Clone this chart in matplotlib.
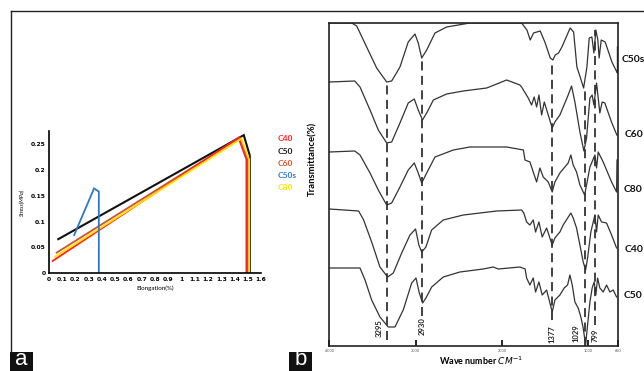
"""
Two-panel figure: (a) stress vs elongation curves, (b) stacked FTIR spectra.
Writes out.png (644x371).
"""

import matplotlib
matplotlib.use("Agg")
import matplotlib.pyplot as plt
from matplotlib.lines import Line2D
from matplotlib.patches import Rectangle

plt.rcParams["font.family"] = ["Lato", "DejaVu Sans"]

# ---------------- panel a: stress / elongation ----------------
ELONG_TICKS = [0, 0.1, 0.2, 0.3, 0.4, 0.5, 0.6, 0.7, 0.8, 0.9, 1.0, 1.1, 1.2, 1.3, 1.4, 1.5, 1.6]
ELONG_TICK_LABELS = ["0", "0.1", "0.2", "0.3", "0.4", "0.5", "0.6", "0.7", "0.8", "0.9",
                     "1", "1.1", "1.2", "1.3", "1.4", "1.5", "1.6"]
STRESS_TICKS = [0, 0.05, 0.1, 0.15, 0.2, 0.25]
STRESS_TICK_LABELS = ["0", "0.05", "0.1", "0.15", "0.2", "0.25"]

C50_ELONG = [0.07, 1.47, 1.515, 1.515]
C50_STRESS = [0.066, 0.267, 0.228, 0.0]
C60_ELONG = [0.058, 1.44, 1.50, 1.50]
C60_STRESS = [0.040, 0.262, 0.222, 0.0]
C40_ELONG = [0.028, 1.43, 1.49, 1.49]
C40_STRESS = [0.024, 0.262, 0.220, 0.0]
C80_ELONG = [0.045, 1.45, 1.51, 1.51]
C80_STRESS = [0.032, 0.260, 0.220, 0.0]
C50S_ELONG = [0.19, 0.34, 0.376, 0.376]
C50S_STRESS = [0.074, 0.164, 0.158, 0.0]

TENSILE_SERIES = [
    ("C50", C50_ELONG, C50_STRESS, "#111111"),
    ("C60", C60_ELONG, C60_STRESS, "#cf5428"),
    ("C40", C40_ELONG, C40_STRESS, "#ff2020"),
    ("C80", C80_ELONG, C80_STRESS, "#ffe400"),
    ("C50s", C50S_ELONG, C50S_STRESS, "#2b78c8"),
]
LEGEND_ORDER = ["C40", "C50", "C60", "C50s", "C80"]

# ---------------- panel b: FTIR spectra (offset transmittance) ----------------
C50S_WN = [4000, 3740, 3682, 3567, 3451, 3335, 3277, 3181, 3085, 3007, 2969, 2929, 2871, 2775,
           2640, 2370, 1944, 1771, 1709, 1671, 1632, 1555, 1497, 1439, 1408, 1381, 1342, 1304,
           1208, 1168, 1130, 1092, 1052, 1014, 987, 956, 933, 910, 887, 872, 848, 802, 724, 667,
           660, 660]
C50S_T = [324, 324, 321, 300, 279, 265, 266, 280, 305, 313, 304, 289, 297, 314,
          320, 324, 324, 324, 317, 307, 314, 316, 304, 289, 287, 292, 294, 300,
          319, 315, 280, 270, 259, 280, 309, 310, 294, 317, 307, 289, 307, 305, 285, 275,
          274, 300]

C60_WN = [4000, 3705, 3644, 3528, 3432, 3335, 3277, 3181, 3085, 3015, 2969, 2920, 2871, 2794,
          2640, 2447, 2176, 1944, 1791, 1771, 1694, 1655, 1625, 1597, 1570, 1539, 1508, 1416,
          1385, 1327, 1231, 1192, 1153, 1095, 1049, 1018, 979, 953, 933, 902, 883, 864, 837,
          806, 729, 667]
C60_T = [265, 266, 260, 237, 217, 204, 205, 224, 244, 248, 237, 227, 234, 247,
         253, 256, 259, 267, 262, 260, 249, 242, 250, 240, 252, 232, 245, 219,
         225, 232, 252, 261, 245, 215, 196, 209, 249, 252, 242, 264, 249, 234, 245,
         244, 225, 212]

C80_WN = [4000, 3705, 3644, 3528, 3432, 3335, 3277, 3181, 3085, 3015, 2969, 2929, 2871, 2775,
          2562, 2370, 1944, 1750, 1732, 1674, 1636, 1597, 1559, 1520, 1462, 1416, 1385, 1327,
          1231, 1200, 1173, 1134, 1095, 1040, 979, 921, 902, 883, 825, 728, 670, 665]
C80_T = [195, 196, 192, 174, 157, 142, 144, 160, 177, 184, 174, 164, 174, 190,
         197, 200, 200, 197, 187, 185, 175, 165, 179, 170, 165, 155, 165, 174,
         184, 192, 182, 175, 162, 152, 180, 192, 179, 195, 185, 165, 155, 187]

C40_WN = [4000, 3660, 3602, 3505, 3413, 3324, 3258, 3161, 3065, 3000, 2962, 2929, 2880, 2814,
          2679, 2447, 2060, 1771, 1745, 1713, 1675, 1636, 1609, 1570, 1532, 1481, 1416, 1385,
          1327, 1289, 1200, 1173, 1134, 1095, 1057, 1029, 1006, 968, 941, 921, 902, 883, 844,
          786, 728, 670]
C40_T = [138, 136, 127, 104, 80, 70, 74, 94, 112, 118, 102, 95, 100, 117,
         127, 132, 136, 137, 134, 125, 122, 127, 115, 125, 110, 119, 102, 109,
         115, 122, 134, 129, 119, 102, 85, 77, 89, 115, 125, 132, 115, 132, 125,
         124, 112, 99]

C50_WN = [4000, 3644, 3586, 3509, 3413, 3316, 3239, 3143, 3045, 2995, 2957, 2918, 2880, 2813,
          2679, 2486, 2216, 2100, 2042, 1790, 1730, 1713, 1675, 1636, 1609, 1570, 1532, 1481,
          1416, 1385, 1327, 1277, 1238, 1211, 1184, 1153, 1115, 1084, 1057, 1029, 1006, 979,
          953, 930, 910, 890, 864, 825, 786, 748, 709, 670]
C50_T = [79, 79, 67, 47, 30, 20, 20, 37, 64, 69, 54, 44, 49, 60,
         70, 75, 78, 80, 78, 80, 78, 69, 62, 69, 55, 65, 52, 57,
         35, 47, 52, 59, 62, 72, 62, 45, 39, 30, 19, 2, 22, 45,
         59, 65, 52, 69, 59, 55, 62, 55, 57, 50]

SPECTRA = [
    ("C50s", C50S_WN, C50S_T),
    ("C60", C60_WN, C60_T),
    ("C80", C80_WN, C80_T),
    ("C40", C40_WN, C40_T),
    ("C50", C50_WN, C50_T),
]

# marked bands: where the dashed guide sits, its printed label, and its vertical span
PEAK_WN = [3335, 2929, 1416, 1040, 918]
PEAK_LABELS = ["3295", "2930", "1377", "1029", "799"]
PEAK_TOP = [265, 289, 287, 259, 317]
PEAK_BOTTOM = [7, 31, 27, 1, 22]

WN_TICKS = [4000, 3000, 2000, 1000, 650]


def draw_tensile(fig):
    ax = fig.add_axes([49 / 644, 1 - 273.3 / 371, 212 / 644, 142.3 / 371])
    for name, x, y, color in TENSILE_SERIES:
        lw = 1.5 if name == "C50" else 1.3
        ax.plot(x, y, color=color, linewidth=lw, solid_joinstyle="miter")
    ax.set_xlim(0, 1.6)
    ax.set_ylim(0, 0.275)
    ax.set_xticks(ELONG_TICKS)
    ax.set_xticklabels(ELONG_TICK_LABELS, fontsize=4.3, fontweight="bold",
                       family="DejaVu Sans")
    ax.set_yticks(STRESS_TICKS)
    ax.set_yticklabels(STRESS_TICK_LABELS, fontsize=4.3, fontweight="bold",
                       family="DejaVu Sans")
    ax.tick_params(length=0, pad=2.5)
    for side in ("top", "right"):
        ax.spines[side].set_visible(False)
    for side in ("left", "bottom"):
        ax.spines[side].set_linewidth(1.2)
    ax.set_xlabel("Elongation(%)", fontsize=4.5, labelpad=3)
    ax.set_ylabel("Stress(MPa)", fontsize=4, style="italic", labelpad=4)

    colors = {name: color for name, _, _, color in TENSILE_SERIES}
    legend_y = [138, 151, 163, 175, 187]
    for name, py in zip(LEGEND_ORDER, legend_y):
        fig.text(278 / 644, 1 - py / 371, name, color=colors[name], fontsize=6,
                 fontweight="bold", va="center", ha="left")


def draw_ftir(fig):
    ax = fig.add_axes([329.3 / 644, 1 - 346 / 371, 289 / 644, 323.3 / 371])
    for name, wn, t in SPECTRA:
        ax.plot(wn, t, color="#333333", linewidth=0.9, solid_joinstyle="round")

    # label placement for the marked bands (some labels sit beside their guide line)
    label_wn = [3424, 2929, 1416, 1140, 918]
    label_t = [19, 21, 13, 14, 12]
    for pos, lab, top, bot, lx, ly in zip(PEAK_WN, PEAK_LABELS, PEAK_TOP, PEAK_BOTTOM,
                                          label_wn, label_t):
        ax.plot([pos, pos], [bot, top], color="#333333", linewidth=1.3,
                linestyle=(0, (5, 3)))
        ax.text(lx, ly, lab, rotation=90, fontsize=5.5, fontweight="bold",
                ha="center", va="center", color="#222222")

    ax.set_xlim(4000, 650)
    ax.set_ylim(1, 324.3)
    ax.set_xticks(WN_TICKS)
    ax.set_xticklabels([str(v) for v in WN_TICKS], fontsize=2.8, color="#555555")
    ax.tick_params(axis="x", direction="in", length=4, width=1.2, pad=2)
    ax.set_yticks([])
    for spine in ax.spines.values():
        spine.set_linewidth(1.2)
        spine.set_color("#222222")

    ax.set_xlabel("Wave number $CM^{-1}$", fontsize=6.5, fontweight="bold")
    ax.xaxis.set_label_coords(0.525, -0.028)
    ax.set_ylabel("Transmittance(%)", fontsize=6.8, fontweight="bold")
    ax.yaxis.set_label_coords(-0.042, 0.58)

    label_px = [(621.7, 60), (624.3, 134), (623.3, 189), (624.3, 250), (623.3, 295)]
    for (name, _, _), (px, py) in zip(SPECTRA, label_px):
        fig.text(px / 644, 1 - py / 371, name, fontsize=7.5, fontweight="bold",
                 va="center", ha="left", color="#111111")


def draw_frame(fig):
    top = 1 - 11 / 371
    left = 11 / 644
    fig.add_artist(Line2D([left, 1], [top, top], color="#222222", linewidth=1.0,
                          transform=fig.transFigure))
    fig.add_artist(Line2D([left, left], [19 / 371, top], color="#222222", linewidth=1.0,
                          transform=fig.transFigure))
    for letter, x0 in (("a", 10), ("b", 289)):
        fig.add_artist(Rectangle((x0 / 644, 0), 23 / 644, 19 / 371, facecolor="#111111",
                                 edgecolor="none", transform=fig.transFigure))
        fig.text((x0 + 11.5) / 644, 1 / 371, letter, color="white", fontsize=16,
                 family="Liberation Sans", ha="center", va="bottom")


def main():
    fig = plt.figure(figsize=(6.44, 3.71), dpi=100)
    draw_frame(fig)
    draw_tensile(fig)
    draw_ftir(fig)
    fig.savefig("out.png", dpi=100)


if __name__ == "__main__":
    main()
